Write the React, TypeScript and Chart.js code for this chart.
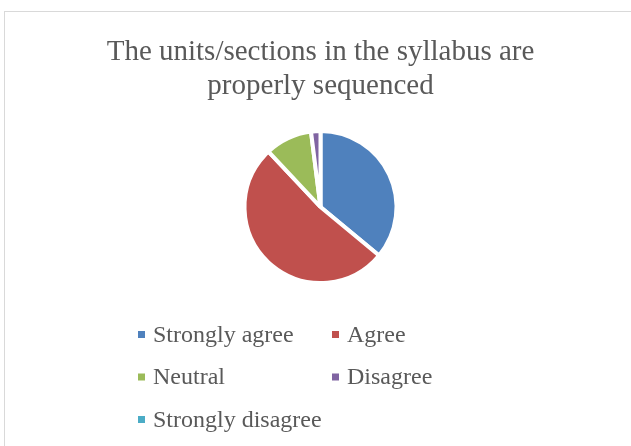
import React, { useEffect, useRef } from "react";
import { Chart, registerables } from "chart.js";

Chart.register(...registerables);

const titleLines = ["The units/sections in the syllabus are", "properly sequenced"];
const categories = ["Strongly agree", "Agree", "Neutral", "Disagree", "Strongly disagree"];
const responses = [36, 52, 10, 2, 0];
const colors = ["#4F81BD", "#C0504D", "#9BBB59", "#8064A2", "#4BACC6"];

const FONT = "'Liberation Serif', 'Times New Roman', serif";
const TEXT_COLOR = "#595959";

const framePlugin = {
  id: "frame",
  beforeDraw(chart: any) {
    const ctx = chart.ctx;
    ctx.save();
    ctx.fillStyle = "#ffffff";
    ctx.fillRect(0, 0, chart.width, chart.height);
    ctx.strokeStyle = "#d9d9d9";
    ctx.lineWidth = 1;
    ctx.strokeRect(4.5, 11.5, chart.width + 20, chart.height + 20);
    ctx.restore();
  },
};

const gridLegendPlugin = {
  id: "gridLegend",
  afterDraw(chart: any) {
    const ctx = chart.ctx;
    const labels: string[] = chart.data.labels;
    const bg: string[] = chart.data.datasets[0].backgroundColor;
    const colX = [138, 332];
    const rowY0 = 334.5;
    const rowGap = 42.5;
    const box = 7;
    ctx.save();
    ctx.font = `24px ${FONT}`;
    ctx.textBaseline = "middle";
    ctx.textAlign = "left";
    labels.forEach((label, i) => {
      const col = i % 2;
      const row = Math.floor(i / 2);
      const x = colX[col];
      const y = rowY0 + row * rowGap;
      ctx.fillStyle = bg[i];
      ctx.fillRect(x, y - box / 2, box, box);
      ctx.fillStyle = TEXT_COLOR;
      ctx.fillText(label, x + box + 8, y + 1);
    });
    ctx.restore();
  },
};

export default function App() {
  const canvasRef = useRef<HTMLCanvasElement | null>(null);

  useEffect(() => {
    if (!canvasRef.current) return;
    const chart = new Chart(canvasRef.current, {
      type: "pie",
      data: {
        labels: categories,
        datasets: [
          {
            data: responses,
            backgroundColor: colors,
            borderColor: "#ffffff",
            borderWidth: 4,
          },
        ],
      },
      options: {
        responsive: false,
        animation: false,
        devicePixelRatio: 1,
        layout: { padding: { top: 0, left: 10, right: 0, bottom: 161 } },
        plugins: {
          legend: { display: false },
          tooltip: { enabled: false },
          title: {
            display: true,
            text: titleLines,
            color: TEXT_COLOR,
            font: { family: FONT, size: 29, weight: "normal", lineHeight: 1.15 },
            padding: { top: 36, bottom: 26.3 },
          },
        },
      },
      plugins: [framePlugin, gridLegendPlugin],
    });
    return () => chart.destroy();
  }, []);

  return (
    <div style={{ position: "absolute", left: 0, top: 0, width: 631, height: 446 }}>
      <canvas ref={canvasRef} width={631} height={446} />
    </div>
  );
}
